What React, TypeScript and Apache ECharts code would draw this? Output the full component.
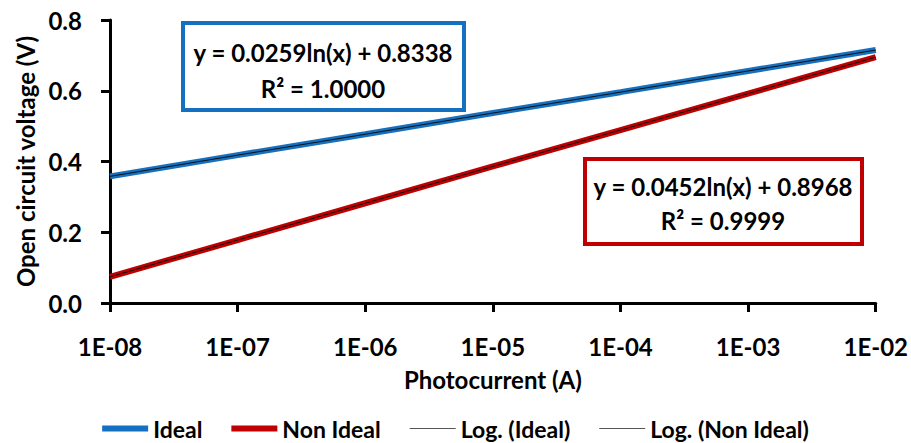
import React, { useEffect, useRef } from 'react';
import * as echarts from 'echarts';

const xTickLabels = ['1E-08', '1E-07', '1E-06', '1E-05', '1E-04', '1E-03', '1E-02'];
const photocurrent = [1e-8, 1e-7, 1e-6, 1e-5, 1e-4, 1e-3, 1e-2];
const idealVoc = [0.358, 0.418, 0.477, 0.537, 0.596, 0.656, 0.715];
const nonIdealVoc = [0.074, 0.178, 0.282, 0.386, 0.489, 0.592, 0.695];
const idealTrend = [0.358, 0.418, 0.477, 0.537, 0.596, 0.656, 0.715];
const nonIdealTrend = [0.074, 0.178, 0.282, 0.386, 0.489, 0.592, 0.695];
const seriesNames = ['Ideal', 'Non Ideal', 'Log. (Ideal)', 'Log. (Non Ideal)'];
const idealEquation = ['y = 0.0259ln(x) + 0.8338', 'R² = 1.0000'];
const nonIdealEquation = ['y = 0.0452ln(x) + 0.8968', 'R² = 0.9999'];

const FONT = 'Lato, "Open Sans", sans-serif';
const BLUE = '#1570BF';
const RED = '#C00000';

const pairs = (xs: number[], ys: number[]) => xs.map((x, i) => [x, ys[i]]);

export default function App() {
  const ref = useRef<HTMLDivElement>(null);
  useEffect(() => {
    if (!ref.current) return;
    const chart = echarts.init(ref.current, undefined, { renderer: 'svg' });
    const thick = 'path://M0,0H46V6H0Z';
    const thin = 'path://M0,0H46V1H0Z';
    const eqStyle = { align: 'center', verticalAlign: 'middle', fontFamily: FONT, fontWeight: 'bold', fontSize: 24, fill: '#000' };
    chart.setOption({
      animation: false,
      backgroundColor: '#fff',
      grid: { left: 110, right: 32, top: 20, bottom: 140, containLabel: false },
      xAxis: {
        type: 'log',
        logBase: 10,
        min: 1e-8,
        max: 1e-2,
        name: 'Photocurrent (A)',
        nameLocation: 'middle',
        nameGap: 64,
        nameTextStyle: { fontFamily: FONT, fontWeight: 'bold', fontSize: 24, color: '#000' },
        axisLine: { lineStyle: { color: '#000', width: 3 } },
        axisTick: { show: true, length: 9, lineStyle: { color: '#000', width: 3 } },
        minorTick: { show: false },
        splitLine: { show: false },
        axisLabel: {
          margin: 31,
          fontFamily: FONT,
          fontWeight: 'bold',
          fontSize: 24,
          color: '#000',
          formatter: (v: number) => {
            const idx = Math.round(Math.log10(v)) + 8;
            return xTickLabels[idx] ?? '';
          },
        },
      },
      yAxis: {
        type: 'value',
        min: 0,
        max: 0.8,
        interval: 0.2,
        name: 'Open circuit voltage (V)',
        nameLocation: 'middle',
        nameGap: 70,
        nameTextStyle: { fontFamily: FONT, fontWeight: 'bold', fontSize: 24, color: '#000' },
        axisLine: { show: true, lineStyle: { color: '#000', width: 3 } },
        axisTick: { show: true, length: 9, lineStyle: { color: '#000', width: 3 } },
        splitLine: { show: false },
        axisLabel: {
          margin: 28,
          fontFamily: FONT,
          fontWeight: 'bold',
          fontSize: 24,
          color: '#000',
          formatter: (v: number) => v.toFixed(1),
        },
      },
      legend: {
        left: 'center',
        top: 417,
        padding: 0,
        itemWidth: 46,
        itemHeight: 12,
        itemGap: 29,
        textStyle: { fontFamily: FONT, fontWeight: 'bold', fontSize: 23, lineHeight: 22, color: '#000' },
        data: [
          { name: seriesNames[0], icon: thick },
          { name: seriesNames[1], icon: thick },
          { name: seriesNames[2], icon: thin, itemStyle: { color: '#555' } },
          { name: seriesNames[3], icon: thin, itemStyle: { color: '#555' } },
        ],
      },
      series: [
        {
          name: seriesNames[0],
          type: 'line',
          data: pairs(photocurrent, idealVoc),
          showSymbol: false,
          symbol: 'none',
          color: BLUE,
          lineStyle: { width: 6, color: BLUE },
          z: 2,
        },
        {
          name: seriesNames[1],
          type: 'line',
          data: pairs(photocurrent, nonIdealVoc),
          showSymbol: false,
          symbol: 'none',
          color: RED,
          lineStyle: { width: 6, color: RED },
          z: 2,
        },
        {
          name: seriesNames[2],
          type: 'line',
          data: pairs(photocurrent, idealTrend),
          showSymbol: false,
          symbol: 'none',
          color: '#222',
          lineStyle: { width: 1, color: '#111' },
          z: 3,
        },
        {
          name: seriesNames[3],
          type: 'line',
          data: pairs(photocurrent, nonIdealTrend),
          showSymbol: false,
          symbol: 'none',
          color: '#222',
          lineStyle: { width: 1, color: '#111' },
          z: 3,
        },
      ],
      graphic: [
        {
          type: 'rect',
          z: 10,
          shape: { x: 183, y: 23, width: 281, height: 87 },
          style: { fill: '#fff', stroke: BLUE, lineWidth: 4 },
        },
        { type: 'text', z: 11, x: 323, y: 52, style: { ...eqStyle, text: idealEquation[0] } },
        { type: 'text', z: 11, x: 323, y: 88, style: { ...eqStyle, text: idealEquation[1] } },
        {
          type: 'rect',
          z: 10,
          shape: { x: 585, y: 159, width: 277, height: 85 },
          style: { fill: '#fff', stroke: RED, lineWidth: 4 },
        },
        { type: 'text', z: 11, x: 723, y: 186, style: { ...eqStyle, text: nonIdealEquation[0] } },
        { type: 'text', z: 11, x: 723, y: 220, style: { ...eqStyle, text: nonIdealEquation[1] } },
      ],
    });
    return () => chart.dispose();
  }, []);
  return (
    <div
      ref={ref}
      style={{ position: 'fixed', left: 0, top: 0, width: 911, height: 443, background: '#fff' }}
    />
  );
}
